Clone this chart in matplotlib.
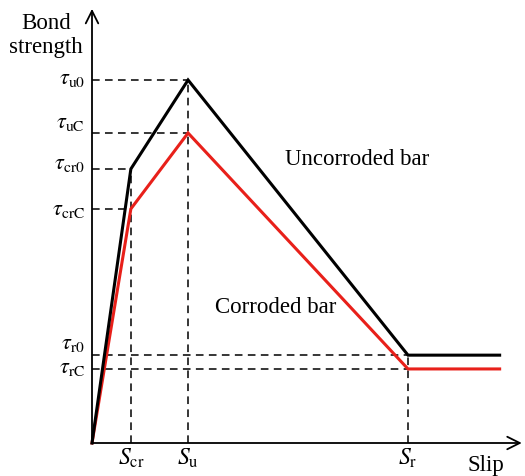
import matplotlib
matplotlib.use("Agg")
import matplotlib.pyplot as plt

plt.rcParams['font.family'] = ['Liberation Serif', 'DejaVu Serif']
plt.rcParams['mathtext.fontset'] = 'stix'

# Characteristic slips (arbitrary units)
slip_labels = [r'$S_{\mathrm{cr}}$', r'$S_{\mathrm{u}}$', r'$S_{\mathrm{r}}$']
slip_points = [1.23, 3.04, 10.0]
slip_end = 12.9

# Uncorroded bar bond strengths
uncorroded_tau = [0.0, 7.55, 10.0, 2.42, 2.42]
# Corroded bar bond strengths
corroded_tau = [0.0, 6.45, 8.54, 2.04, 2.04]

uncorroded_labels = [r'$\tau_{\mathrm{cr0}}$', r'$\tau_{\mathrm{u0}}$', r'$\tau_{\mathrm{r0}}$']
corroded_labels = [r'$\tau_{\mathrm{crC}}$', r'$\tau_{\mathrm{uC}}$', r'$\tau_{\mathrm{rC}}$']

W, H = 525, 477
fig = plt.figure(figsize=(W / 100, H / 100), dpi=100)
ox, oy = 92, 444
xscale, yscale = 31.6, 36.3
ax = fig.add_axes([ox / W, (H - oy) / H, 1 - ox / W, oy / H])
ax.set_xlim(0, (W - ox) / xscale)
ax.set_ylim(0, oy / yscale)
ax.axis('off')

xs = [0.0] + slip_points + [slip_end]

dash = dict(color='black', lw=1.1, ls=(0, (5, 3.5)))
for sx, ty in zip(slip_points, uncorroded_tau[1:4]):
    ax.plot([sx, sx], [0, ty], **dash)
for sx, t0, tc in zip(slip_points, uncorroded_tau[1:4], corroded_tau[1:4]):
    ax.plot([0, sx], [t0, t0], **dash)
    ax.plot([0, sx], [tc, tc], **dash)

ax.plot(xs, corroded_tau, color='#e8201a', lw=2.2, solid_joinstyle='miter', zorder=3)
ax.plot(xs, uncorroded_tau, color='black', lw=2.2, solid_joinstyle='miter', zorder=4)

arrow = dict(arrowstyle='->,head_length=0.9,head_width=0.45', lw=1.3, color='black',
             shrinkA=0, shrinkB=0)
ax.annotate('', xy=(0, 11.96), xytext=(0, 0), arrowprops=arrow)
ax.annotate('', xy=(13.6, 0), xytext=(0, 0), arrowprops=arrow)

fs = 16
unc_off = [0.16, 0.03, 0.33]
cor_off = [-0.03, 0.30, 0.05]
for lab, t, d in zip(uncorroded_labels, uncorroded_tau[1:4], unc_off):
    ax.text(-0.22, t + d, lab, ha='right', va='center', fontsize=fs)
for lab, t, d in zip(corroded_labels, corroded_tau[1:4], cor_off):
    ax.text(-0.22, t + d, lab, ha='right', va='center', fontsize=fs)
for lab, sx in zip(slip_labels, slip_points):
    ax.text(sx, -0.08, lab, ha='center', va='top', fontsize=17)

tfs = 16.5
ax.text(-0.28, 11.25, 'Bond\nstrength', ha='right', va='center', fontsize=tfs,
        linespacing=1.15, multialignment='center')
ax.text(12.47, -0.6, 'Slip', ha='center', va='center', fontsize=tfs)
ax.text(6.1, 7.85, 'Uncorroded bar', ha='left', va='center', fontsize=tfs)
ax.text(3.9, 3.75, 'Corroded bar', ha='left', va='center', fontsize=tfs)

for artist in ax.get_children():
    try:
        artist.set_clip_on(False)
    except Exception:
        pass

fig.savefig('out.png', dpi=100)
